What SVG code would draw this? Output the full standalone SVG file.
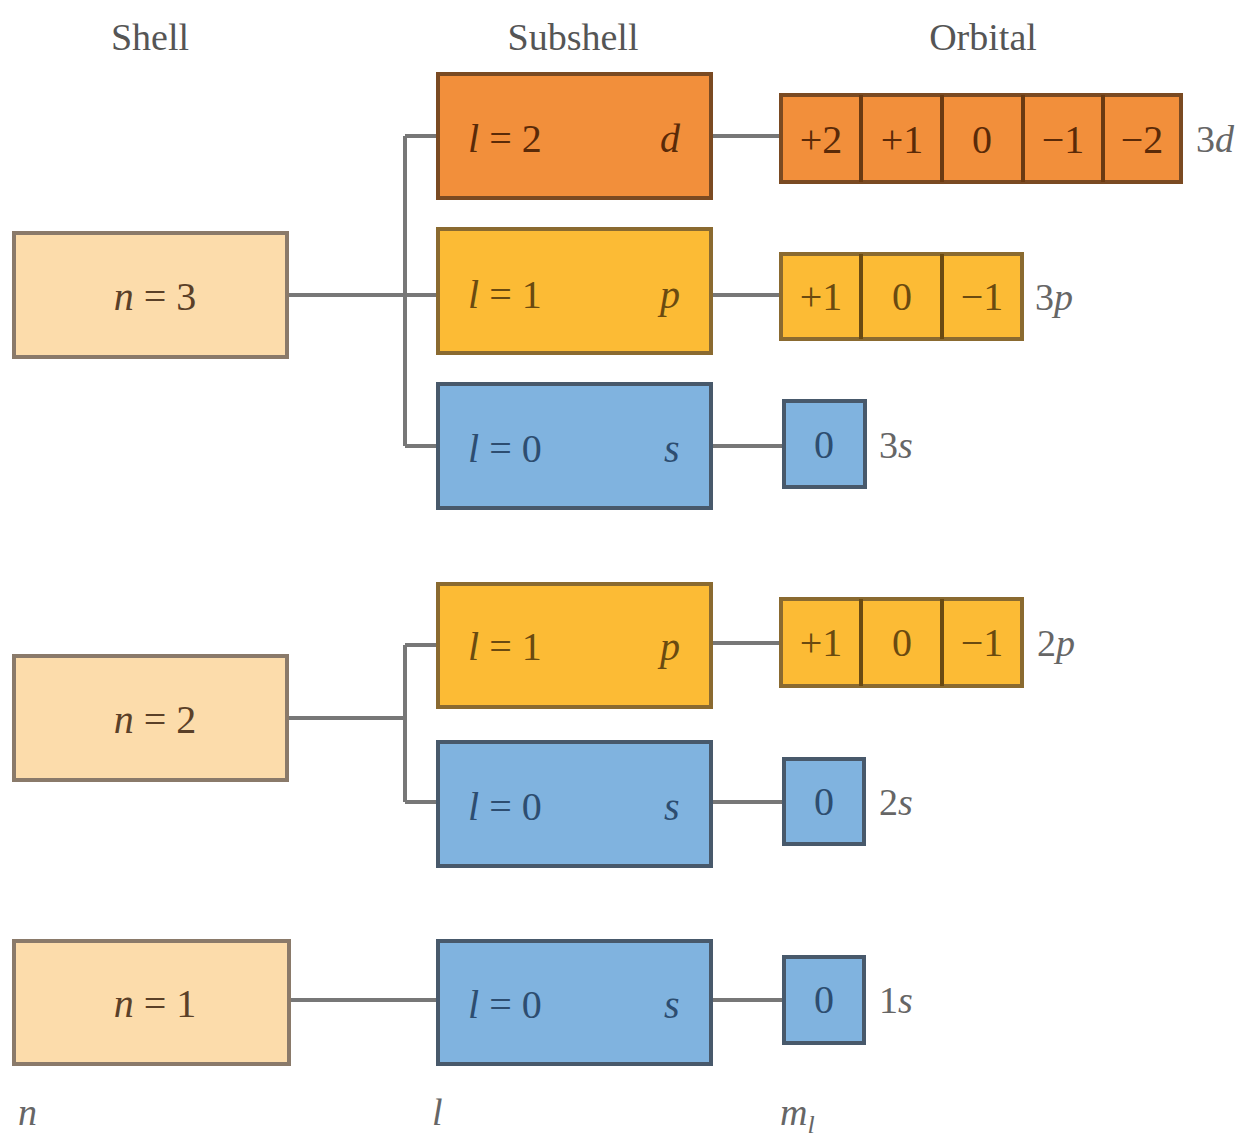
<svg xmlns="http://www.w3.org/2000/svg" width="1251" height="1143" viewBox="0 0 1251 1143">
<style>
text{font-family:"Liberation Serif","DejaVu Serif","Times New Roman",serif}
.hdr{font-size:38px;fill:#555;text-anchor:middle}
.lab{font-size:38px;fill:#666}
.shell{fill:#fcdcab;stroke:#8a7a6a;stroke-width:4}
.d{fill:#f28f3b;stroke:#7a4a22;stroke-width:4}
.p{fill:#fcbb35;stroke:#8a6a30;stroke-width:4}
.s{fill:#80b3df;stroke:#48596b;stroke-width:4}
.sep-d{stroke:#6a3a12;stroke-width:4}
.sep-p{stroke:#6a4a12;stroke-width:4}
.t{font-size:40px;text-anchor:middle}
.tl{font-size:40px}
.tc{fill:#5a4028}
.td{fill:#5a2a08}
.tp{fill:#6a4a10}
.ts{fill:#2d4d70}
.conn{stroke:#777;stroke-width:4;fill:none}
</style>
<g id="headers">
<text class="hdr" x="150" y="50">Shell</text>
<text class="hdr" x="573" y="50">Subshell</text>
<text class="hdr" x="983" y="50">Orbital</text>
</g>
<g id="connectors">
<path class="conn" d="M288 295 H437 M405 136 V446 M405 136 H437 M405 446 H437"/>
<path class="conn" d="M712 136 H780 M712 295 H780 M712 446 H783"/>
<path class="conn" d="M288 718 H405 M405 645 V802 M405 645 H437 M405 802 H437"/>
<path class="conn" d="M712 643 H780 M712 802 H783"/>
<path class="conn" d="M290 1000 H437 M712 1000 H783"/>
</g>
<g id="shell3">
<rect class="shell" x="14" y="233" width="273" height="124"/>
<text class="t tc" x="155" y="310"><tspan font-style="italic">n</tspan> = 3</text>
</g>
<g id="shell2">
<rect class="shell" x="14" y="656" width="273" height="124"/>
<text class="t tc" x="155" y="733"><tspan font-style="italic">n</tspan> = 2</text>
</g>
<g id="shell1">
<rect class="shell" x="14" y="941" width="275" height="123"/>
<text class="t tc" x="155" y="1017"><tspan font-style="italic">n</tspan> = 1</text>
</g>
<g id="sub3d">
<rect class="d" x="438" y="74" width="273" height="124"/>
<text class="tl td" x="468" y="152"><tspan font-style="italic">l</tspan> = 2</text>
<text class="tl td" x="660" y="152" font-style="italic">d</text>
</g>
<g id="sub3p">
<rect class="p" x="438" y="229" width="273" height="124"/>
<text class="tl tp" x="468" y="308"><tspan font-style="italic">l</tspan> = 1</text>
<text class="tl tp" x="660" y="308" font-style="italic">p</text>
</g>
<g id="sub3s">
<rect class="s" x="438" y="384" width="273" height="124"/>
<text class="tl ts" x="468" y="462"><tspan font-style="italic">l</tspan> = 0</text>
<text class="tl ts" x="664" y="462" font-style="italic">s</text>
</g>
<g id="sub2p">
<rect class="p" x="438" y="584" width="273" height="123"/>
<text class="tl tp" x="468" y="660"><tspan font-style="italic">l</tspan> = 1</text>
<text class="tl tp" x="660" y="660" font-style="italic">p</text>
</g>
<g id="sub2s">
<rect class="s" x="438" y="742" width="273" height="124"/>
<text class="tl ts" x="468" y="820"><tspan font-style="italic">l</tspan> = 0</text>
<text class="tl ts" x="664" y="820" font-style="italic">s</text>
</g>
<g id="sub1s">
<rect class="s" x="438" y="941" width="273" height="123"/>
<text class="tl ts" x="468" y="1018"><tspan font-style="italic">l</tspan> = 0</text>
<text class="tl ts" x="664" y="1018" font-style="italic">s</text>
</g>
<g id="orb3d">
<rect class="d" x="781" y="95" width="400" height="87"/>
<line class="sep-d" x1="861" y1="95" x2="861" y2="182"/>
<line class="sep-d" x1="942" y1="95" x2="942" y2="182"/>
<line class="sep-d" x1="1023" y1="95" x2="1023" y2="182"/>
<line class="sep-d" x1="1103" y1="95" x2="1103" y2="182"/>
<text class="t td" x="821" y="153">+2</text>
<text class="t td" x="902" y="153">+1</text>
<text class="t td" x="982" y="153">0</text>
<text class="t td" x="1063" y="153">−1</text>
<text class="t td" x="1142" y="153">−2</text>
<text class="lab" x="1196" y="152">3<tspan font-style="italic">d</tspan></text>
</g>
<g id="orb3p">
<rect class="p" x="781" y="254" width="241" height="85"/>
<line class="sep-p" x1="861" y1="254" x2="861" y2="339"/>
<line class="sep-p" x1="942" y1="254" x2="942" y2="339"/>
<text class="t tp" x="821" y="310">+1</text>
<text class="t tp" x="902" y="310">0</text>
<text class="t tp" x="982" y="310">−1</text>
<text class="lab" x="1035" y="310">3<tspan font-style="italic">p</tspan></text>
</g>
<g id="orb3s">
<rect class="s" x="784" y="401" width="81" height="86"/>
<text class="t ts" x="824" y="458">0</text>
<text class="lab" x="879" y="458">3<tspan font-style="italic">s</tspan></text>
</g>
<g id="orb2p">
<rect class="p" x="781" y="599" width="241" height="87"/>
<line class="sep-p" x1="861" y1="599" x2="861" y2="686"/>
<line class="sep-p" x1="942" y1="599" x2="942" y2="686"/>
<text class="t tp" x="821" y="656">+1</text>
<text class="t tp" x="902" y="656">0</text>
<text class="t tp" x="982" y="656">−1</text>
<text class="lab" x="1037" y="656">2<tspan font-style="italic">p</tspan></text>
</g>
<g id="orb2s">
<rect class="s" x="784" y="759" width="80" height="85"/>
<text class="t ts" x="824" y="815">0</text>
<text class="lab" x="879" y="815">2<tspan font-style="italic">s</tspan></text>
</g>
<g id="orb1s">
<rect class="s" x="784" y="957" width="80" height="86"/>
<text class="t ts" x="824" y="1013">0</text>
<text class="lab" x="879" y="1013">1<tspan font-style="italic">s</tspan></text>
</g>
<g id="axis">
<text class="lab" x="18" y="1125" font-style="italic">n</text>
<text class="lab" x="432" y="1125" font-style="italic">l</text>
<text class="lab" x="780" y="1125" font-style="italic">m<tspan font-size="26" dy="8">l</tspan></text>
</g>
</svg>
